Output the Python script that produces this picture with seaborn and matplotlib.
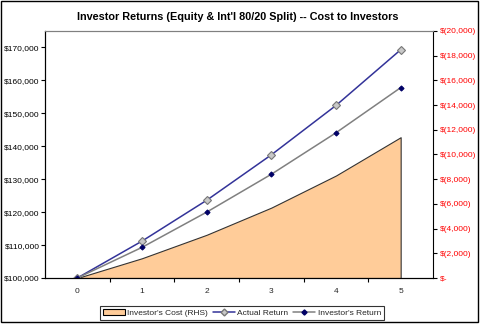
import matplotlib
matplotlib.use("Agg")
import matplotlib.pyplot as plt
from matplotlib.patches import Rectangle, Patch
from matplotlib.lines import Line2D
from matplotlib.ticker import FuncFormatter, FixedLocator
import seaborn as sns
import pandas as pd

sns.set_theme(style="white")
plt.rcParams["font.family"] = ["Liberation Sans", "DejaVu Sans"]

# Data
years = [0, 1, 2, 3, 4, 5]
actual_return = [100000, 111200, 123600, 137400, 152400, 169300]
investor_return = [100000, 109300, 120000, 131500, 144100, 157800]
investor_cost = [0, 1600, 3500, 5700, 8300, 11400]

title = "Investor Returns (Equity & Int'l 80/20 Split) -- Cost to Investors"
labels = ["Investor's Cost (RHS)", "Actual Return", "Investor's Return"]

df = pd.DataFrame({"year": years, "actual": actual_return,
                   "investor": investor_return, "cost": investor_cost})

fig = plt.figure(figsize=(4.8, 3.26), dpi=100)
fig.patch.set_facecolor("white")
ax = fig.add_axes([45 / 480, 1 - 278 / 326, (433 - 45) / 480, (278 - 31) / 326])
ax2 = ax.twinx()

# Cost area on the right-hand axis, drawn beneath the return lines
ax2.fill_between(df["year"], 0, df["cost"], facecolor="#FFCC99",
                 edgecolor="#333333", linewidth=0.8)
ax2.set_ylim(0, 20000)
ax.set_zorder(ax2.get_zorder() + 1)
ax.patch.set_visible(False)

sns.lineplot(data=df, x="year", y="actual", ax=ax, color="#333399", lw=1.1,
             marker="D", markersize=4.2, markerfacecolor="#C8C8C8",
             markeredgecolor="#777777", markeredgewidth=0.8)
sns.lineplot(data=df, x="year", y="investor", ax=ax, color="#808080", lw=1.1,
             marker="D", markersize=2.6, markerfacecolor="#000066",
             markeredgecolor="#000066")

ax.set_xlim(-0.5, 5.5)
ax.set_ylim(100000, 175000)
ax.set_xlabel("")
ax.set_ylabel("")
ax2.set_ylabel("")

# Left axis
ax.set_yticks([100000, 110000, 120000, 130000, 140000, 150000, 160000, 170000])
ax.yaxis.set_major_formatter(FuncFormatter(lambda v, p: f"${v:,.0f}"))
ax.tick_params(axis="y", which="major", direction="out", length=3, width=0.8,
               color="black", labelsize=6, pad=1, left=True, labelcolor="black")

# Category axis: labels at centers, tick marks between categories
ax.set_xticks(years)
ax.set_xticklabels([str(y) for y in years])
ax.xaxis.set_minor_locator(FixedLocator([y + 0.5 for y in years[:-1]]))
ax.tick_params(axis="x", which="major", length=0, labelsize=6, pad=7)
ax.tick_params(axis="x", which="minor", direction="out", length=3, width=0.8,
               color="black", bottom=True)

# Right axis
def cost_fmt(v, p):
    return "$-" if v == 0 else f"$({v:,.0f})"

ax2.set_yticks(range(0, 20001, 2000))
ax2.yaxis.set_major_formatter(FuncFormatter(cost_fmt))
ax2.tick_params(axis="y", direction="out", length=3, width=0.8, color="black",
                labelsize=6, pad=2, labelcolor="#FF0000", right=True)

for a in (ax, ax2):
    for side in ("left", "bottom", "right"):
        a.spines[side].set_color("black")
        a.spines[side].set_linewidth(0.8)
    a.spines["top"].set_color("#808080")
    a.spines["top"].set_linewidth(0.8)
    a.grid(False)
ax.spines["right"].set_visible(False)

fig.text(238 / 480, 1 - 17 / 326, title, ha="center", va="center",
         fontsize=7.8, fontweight="bold", color="black")

handles = [
    Patch(facecolor="#FFCC99", edgecolor="black", linewidth=0.8),
    Line2D([], [], color="#333399", lw=1.1, marker="D", markersize=3.5,
           markerfacecolor="#C8C8C8", markeredgecolor="#777777"),
    Line2D([], [], color="#808080", lw=1.1, marker="D", markersize=2.6,
           markerfacecolor="#000066", markeredgecolor="#000066"),
]
leg = fig.legend(handles, labels, loc="center", bbox_to_anchor=(242 / 480, 1 - 313 / 326),
                 ncol=3, fontsize=6, frameon=True, fancybox=False,
                 handlelength=2.6, handleheight=0.8, handletextpad=0.3,
                 columnspacing=0.6, borderpad=0.35, borderaxespad=0)
leg.get_frame().set_edgecolor("black")
leg.get_frame().set_linewidth(0.8)

# Chart border
fig.add_artist(Rectangle((1 / 480, 1 - 322 / 326), 477 / 480, 321 / 326,
                         transform=fig.transFigure, fill=False,
                         edgecolor="black", linewidth=1.0))

fig.savefig("out.png", dpi=100)
